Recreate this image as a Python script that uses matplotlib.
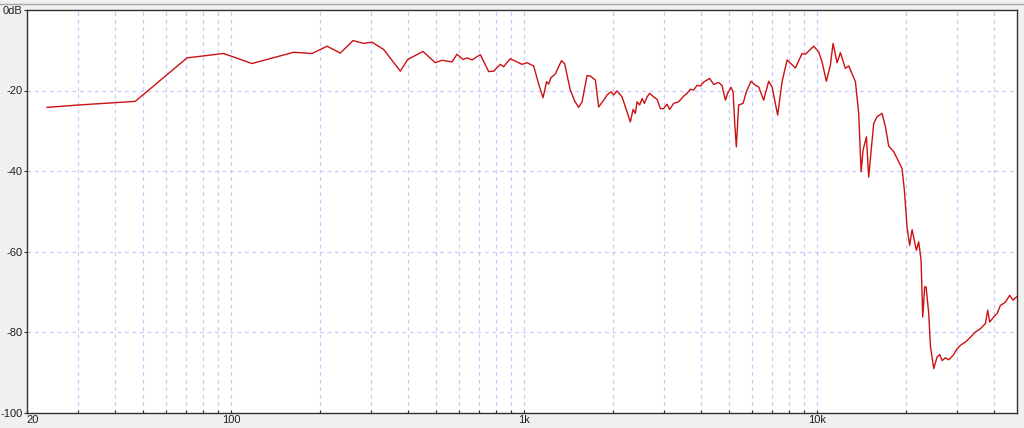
import matplotlib
matplotlib.use('Agg')
import matplotlib.pyplot as plt
from matplotlib.ticker import FixedLocator, NullFormatter

# frequency response (Hz, dB)
freq_hz = [
    23.5, 30.1, 47.0, 70.6, 94.1, 117.7, 163.2, 188.6, 201.3, 212.2,
    235.5, 260.3, 282.8, 302, 331, 377.5, 399.7, 451, 496.6, 523.6,
    566.6, 588.8, 617.7, 637.4, 663, 707.6, 755.3, 785.5, 827.9, 849.7,
    895.4, 981.8, 1021, 1076, 1119, 1158, 1191, 1211, 1233, 1276,
    1338, 1372, 1435, 1485, 1532, 1574, 1637, 1680, 1747, 1793,
    1865, 1916, 1976, 2017, 2072, 2155, 2212, 2300, 2350, 2392,
    2424, 2475, 2522, 2568, 2623, 2677, 2763, 2838, 2912, 2988,
    3069, 3133, 3233, 3362, 3497, 3592, 3687, 3783, 3885, 3988,
    4092, 4290, 4427, 4605, 4729, 4853, 4942, 5075, 5155, 5228,
    5290, 5387, 5577, 5724, 5939, 6143, 6305, 6557, 6821, 7004,
    7320, 7577, 7882, 8412, 8867, 9100, 9714, 10102, 10375, 10732,
    11075, 11312, 11675, 11983, 12459, 12790, 13484, 13838, 14099, 14322,
    14697, 14966, 15566, 15988, 16630, 17068, 17515, 18217, 19454, 19812,
    20230, 20650, 21050, 21770, 22170, 22590, 22880, 23240, 23500, 23990,
    24310, 24950, 25620, 26150, 26650, 27350, 28060, 29050, 29820, 30770,
    32000, 33290, 34610, 36000, 37450, 38130, 38730, 39970, 41050, 42130,
    43810, 45330, 46560, 47790,
]
level_db = [
    -24.2, -23.6, -22.7, -11.9, -10.8, -13.3, -10.5, -10.8, -9.8, -9.0,
    -10.7, -7.6, -8.3, -8.0, -9.8, -15.2, -12.3, -10.3, -13.1, -12.5,
    -12.9, -11.0, -12.3, -11.9, -12.4, -11.1, -15.3, -15.2, -13.5, -14.1,
    -12.1, -13.5, -13.1, -13.9, -18.4, -21.8, -17.8, -18.4, -16.8, -15.9,
    -12.6, -13.3, -19.9, -22.6, -24.2, -22.8, -16.3, -16.4, -17.4, -24.1,
    -22.4, -21.1, -20.3, -21.1, -20.1, -21.6, -24.1, -27.8, -24.7, -25.7,
    -22.8, -23.6, -22.0, -23.2, -21.6, -20.7, -21.6, -22.2, -24.5, -24.5,
    -23.4, -24.7, -23.2, -22.8, -21.4, -20.7, -19.7, -19.9, -18.7, -18.9,
    -17.9, -17.0, -18.5, -18.0, -18.8, -22.4, -20.7, -19.2, -20.3, -28.6,
    -34.0, -23.6, -23.2, -20.3, -17.7, -18.7, -19.1, -22.4, -17.7, -19.1,
    -26.1, -17.8, -12.4, -14.4, -10.8, -11.0, -9.0, -10.4, -12.9, -17.7,
    -13.7, -8.3, -13.1, -10.6, -14.5, -13.9, -17.8, -25.7, -40.2, -34.8,
    -31.5, -41.5, -28.2, -26.5, -25.7, -29.0, -33.8, -35.2, -39.4, -44.8,
    -53.9, -58.5, -54.6, -59.7, -57.6, -62.2, -76.3, -68.8, -68.8, -75.4,
    -83.5, -89.1, -86.2, -85.6, -87.1, -86.4, -86.9, -85.8, -84.4, -83.3,
    -82.5, -81.3, -80.0, -79.2, -77.9, -74.6, -77.5, -76.3, -75.4, -73.4,
    -72.6, -70.9, -72.1, -71.3,
]

major_x = [20, 100, 1000, 10000]
major_x_labels = ['20', '100', '1k', '10k']
minor_x = [30, 40, 50, 60, 70, 80, 90,
           200, 300, 400, 500, 600, 700, 800, 900,
           2000, 3000, 4000, 5000, 6000, 7000, 8000, 9000,
           20000, 30000, 40000]
y_ticks = [0, -20, -40, -60, -80, -100]
y_labels = ['0dB', '-20', '-40', '-60', '-80', '-100']

plt.rcParams['font.family'] = ['Liberation Sans', 'DejaVu Sans']

fig = plt.figure(figsize=(10.24, 4.28), dpi=100, facecolor='#f0f0f0')
ax = fig.add_axes([26.5 / 1024, 1 - 412.5 / 428, (1017 - 26.5) / 1024, (412.5 - 10) / 428])
ax.set_facecolor('white')

# thin frame line across the top of the window
fig.add_artist(plt.Line2D([0, 1], [1 - 4 / 428, 1 - 4 / 428], color='#a8a8a8', lw=1))

grid_color = '#c8c8ff'
for f in minor_x + major_x[1:]:
    ax.axvline(f, color=grid_color, lw=0.9, ls=(0, (3, 3)), zorder=1)
for d in y_ticks[1:-1]:
    ax.axhline(d, color=grid_color, lw=0.9, ls=(0, (3, 3)), zorder=1)

ax.plot(freq_hz, level_db, color='#cc1111', lw=1.0, zorder=3)

ax.set_xscale('log')
ax.set_xlim(20, 48000)
ax.set_ylim(-100, 0)

ax.xaxis.set_major_locator(FixedLocator(major_x))
ax.set_xticklabels(major_x_labels)
ax.xaxis.set_minor_locator(FixedLocator(minor_x))
ax.xaxis.set_minor_formatter(NullFormatter())
ax.set_yticks(y_ticks)
ax.set_yticklabels(y_labels)

ax.tick_params(axis='x', which='both', direction='in', length=2, width=0.8,
               color='#303030', pad=2, labelsize=8, labelcolor='#202020')
ax.tick_params(axis='y', direction='out', length=2.5, width=0.8,
               color='#303030', pad=0.5, labelsize=8, labelcolor='#202020')
ax.get_xticklabels()[0].set_horizontalalignment('left')

for s in ax.spines.values():
    s.set_color('#303030')
    s.set_linewidth(1.0)

fig.savefig('out.png', dpi=100, facecolor=fig.get_facecolor())
